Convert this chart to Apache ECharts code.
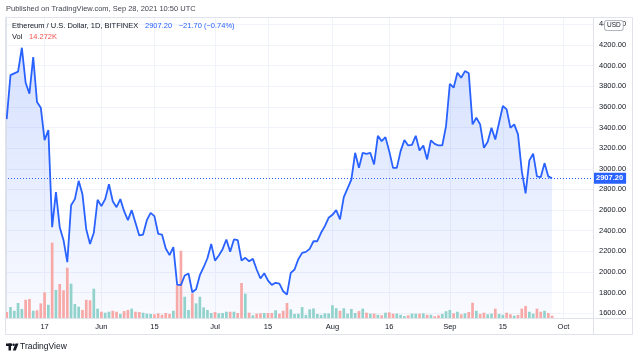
<!DOCTYPE html>
<html>
<head>
<meta charset="utf-8">
<script src="https://cdn.jsdelivr.net/npm/echarts@6/dist/echarts.min.js"></script>
<style>
html,body{margin:0;padding:0;background:#fff;}
#c{width:640px;height:358px;}
</style>
</head>
<body>
<div id="c"></div>
<script>
// Daily closes (USD), May 7 2021 (day 0) .. Sep 28 2021 (day 144)
const closes = [
3482,3908,3925,3941,4173,3834,3728,4083,3647,3592,
3278,3375,2434,2774,2434,2308,2095,2647,2706,2883,
2754,2414,2272,2380,2700,2638,2706,2851,2686,2628,
2706,2589,2502,2599,2477,2354,2363,2502,2573,2541,
2370,2363,2228,2163,2240,1878,1872,1966,1985,1804,
1833,1969,2046,2133,2272,2110,2160,2221,2315,2196,
2315,2308,2111,2137,2104,2127,2024,1937,1988,1917,
1875,1895,1888,1813,1781,1991,2024,2124,2185,2195,
2224,2298,2298,2380,2444,2525,2554,2599,2509,2725,
2810,2895,3155,3009,3155,3145,3155,3042,3320,3268,
3307,3171,3009,3009,3171,3278,3226,3232,3320,3178,
3226,3091,3275,3242,3226,3226,3414,3824,3786,3931,
3882,3947,3925,3430,3494,3430,3203,3262,3397,3284,
3446,3608,3576,3397,3430,3333,2977,2761,3081,3146,
2926,2919,3055,2926,2907.2
];
// Daily volume (K ETH)
const volumesK = [
37,68,45,93,56,113,118,45,48,91,
159,82,467,174,211,172,312,213,87,70,
50,113,110,182,58,39,33,39,45,39,
25,43,50,58,39,37,33,27,25,23,
29,20,31,25,45,206,417,132,50,153,
91,132,66,50,31,37,29,31,39,39,
39,31,217,151,33,17,27,29,31,31,
31,48,27,45,93,53,25,26,68,19,
54,59,25,19,29,28,79,61,45,60,
27,56,31,43,58,33,27,27,20,17,
33,35,27,27,20,12,17,27,27,27,
29,20,20,11,17,25,42,50,29,39,
23,29,37,95,45,25,33,23,27,58,
25,20,33,23,14,19,58,74,39,27,
58,39,45,31,14.272
];
const prevClose = 3490;
const change = -21.70;
const changePct = -0.74;
// x tick positions (days since May 7) and labels
const xTickDays = [10,25,39,55,69,86,101,117,131,147];
const xTickLabels = ['17','Jun','15','Jul','15','Aug','16','Sep','15','Oct'];
const yTicks = [1600,1800,2000,2200,2400,2600,2800,3000,3200,3400,3600,3800,4000,4200,4400];

const BLUE = '#2962ff';
const GREEN = '#92d2cc';
const RED = '#f7a9a7';
const FONT = 'Liberation Sans, Arial, sans-serif';
const lastClose = closes[closes.length - 1];

const lineData = closes.map((v, i) => [i, v]);
const barData = volumesK.map((v, i) => {
  const prev = i === 0 ? prevClose : closes[i - 1];
  return { value: [i, v], itemStyle: { color: closes[i] >= prev ? GREEN : RED } };
});

const chart = echarts.init(document.getElementById('c'), null, { renderer: 'canvas' });
const xBase = { type: 'value', min: -0.45, max: 154.8 };
chart.setOption({
  animation: false,
  textStyle: { fontFamily: FONT },
  grid: [
    { left: 5, right: 47, top: 17, bottom: 40 },
    { left: 5, right: 47, bottom: 40, height: 100 }
  ],
  xAxis: [
    Object.assign({}, xBase, {
      gridIndex: 0,
      axisLine: { show: true, lineStyle: { color: '#e0e3eb' } },
      axisTick: { show: false, customValues: xTickDays },
      axisLabel: {
        customValues: xTickDays,
        formatter: v => xTickLabels[xTickDays.indexOf(Math.round(v))] || '',
        color: '#131722', fontSize: 7.5, fontFamily: FONT, margin: 5
      },
      splitLine: { show: true, lineStyle: { color: '#f0f3fa', width: 1 } }
    }),
    Object.assign({}, xBase, {
      gridIndex: 1, show: false, splitLine: { show: false }
    })
  ],
  yAxis: [
    {
      type: 'value', gridIndex: 0, position: 'right', min: 1554, max: 4471,
      axisLine: { show: true, lineStyle: { color: '#e0e3eb' } },
      axisTick: { show: false, customValues: yTicks },
      axisLabel: {
        customValues: yTicks,
        formatter: v => v.toFixed(2),
        color: '#131722', fontSize: 7.5, fontFamily: FONT, margin: 6
      },
      splitLine: { show: true, lineStyle: { color: '#f0f3fa', width: 1 } }
    },
    {
      type: 'value', gridIndex: 1, min: 0, max: 620, show: false, splitLine: { show: false }
    }
  ],
  series: [
    {
      type: 'line', xAxisIndex: 0, yAxisIndex: 0, data: lineData, z: 1,
      symbol: 'none', lineStyle: { width: 0, opacity: 0 },
      areaStyle: {
        color: new echarts.graphic.LinearGradient(0, 0, 0, 1, [
          { offset: 0, color: 'rgba(41,98,255,0.28)' },
          { offset: 1, color: 'rgba(41,98,255,0.04)' }
        ])
      },
      silent: true
    },
    {
      type: 'bar', xAxisIndex: 1, yAxisIndex: 1, data: barData, z: 2,
      barWidth: 2.7, silent: true
    },
    {
      type: 'line', xAxisIndex: 0, yAxisIndex: 0, data: lineData, z: 3,
      symbol: 'none', lineStyle: { width: 1.8, color: BLUE },
      silent: true,
      markLine: {
        silent: true, symbol: 'none', animation: false,
        lineStyle: { type: [1, 2], color: BLUE, width: 1 },
        label: {
          show: true, position: 'end', distance: 0,
          formatter: () => lastClose.toFixed(2),
          backgroundColor: BLUE, color: '#fff', fontSize: 7.5, fontWeight: 'bold',
          fontFamily: FONT, padding: [2, 3, 1, 3]
        },
        data: [{ yAxis: lastClose }]
      }
    }
  ],
  graphic: [
    { type: 'rect', z: 10, shape: { x: 5.5, y: 17.5, width: 627, height: 317 },
      style: { fill: 'none', stroke: '#e0e3eb', lineWidth: 1 } },
    { type: 'line', z: 10, shape: { x1: 593.5, y1: 17.5, x2: 593.5, y2: 334.5 },
      style: { stroke: '#e0e3eb', lineWidth: 1 } },
    { type: 'line', z: 10, shape: { x1: 5.5, y1: 318.5, x2: 632.5, y2: 318.5 },
      style: { stroke: '#e0e3eb', lineWidth: 1 } },
    { type: 'text', z: 10, x: 6, y: 9,
      style: { text: 'Published on TradingView.com, Sep 28, 2021 10:50 UTC', fill: '#434651',
        font: '7.5px ' + FONT, textVerticalAlign: 'middle' } },
    { type: 'text', z: 10, x: 12, y: 26,
      style: {
        text: '{a|Ethereum / U.S. Dollar, 1D, BITFINEX}  {b|' + lastClose.toFixed(2) + '}  {b|' +
          (change < 0 ? '\u2212' : '+') + Math.abs(change).toFixed(2) + ' (' +
          (changePct < 0 ? '\u2212' : '+') + Math.abs(changePct).toFixed(2) + '%)}',
        textVerticalAlign: 'middle',
        rich: {
          a: { fill: '#131722', fontSize: 7.5, fontFamily: FONT },
          b: { fill: BLUE, fontSize: 7.5, fontFamily: FONT }
        }
      } },
    { type: 'text', z: 10, x: 12, y: 37,
      style: {
        text: '{a|Vol}  {r|' + volumesK[volumesK.length - 1].toFixed(3) + 'K}',
        textVerticalAlign: 'middle',
        rich: {
          a: { fill: '#131722', fontSize: 7.5, fontFamily: FONT },
          r: { fill: '#ef5350', fontSize: 7.5, fontFamily: FONT }
        }
      } },
    { type: 'text', z: 20, x: 605, y: 25.5,
      style: { text: 'USD', fill: '#131722', font: '6.5px ' + FONT, textVerticalAlign: 'middle',
        backgroundColor: '#ffffff', borderColor: '#b2b5be', borderWidth: 1, borderRadius: 2,
        padding: [1, 2, 1, 2] } },
    // TradingView logo mark
    { type: 'rect', z: 10, shape: { x: 6, y: 343.5, width: 6, height: 2.5 }, style: { fill: '#131722' } },
    { type: 'rect', z: 10, shape: { x: 8.5, y: 343.5, width: 2.5, height: 7 }, style: { fill: '#131722' } },
    { type: 'circle', z: 10, shape: { cx: 13.6, cy: 344.8, r: 1.3 }, style: { fill: '#131722' } },
    { type: 'polygon', z: 10, shape: { points: [[15.5, 343.5], [18.5, 343.5], [15.8, 350.5], [12.8, 350.5]] },
      style: { fill: '#131722' } },
    { type: 'text', z: 10, x: 20, y: 347,
      style: { text: 'TradingView', fill: '#131722', font: '8.5px ' + FONT, textVerticalAlign: 'middle' } }
  ]
});
</script>
</body>
</html>
